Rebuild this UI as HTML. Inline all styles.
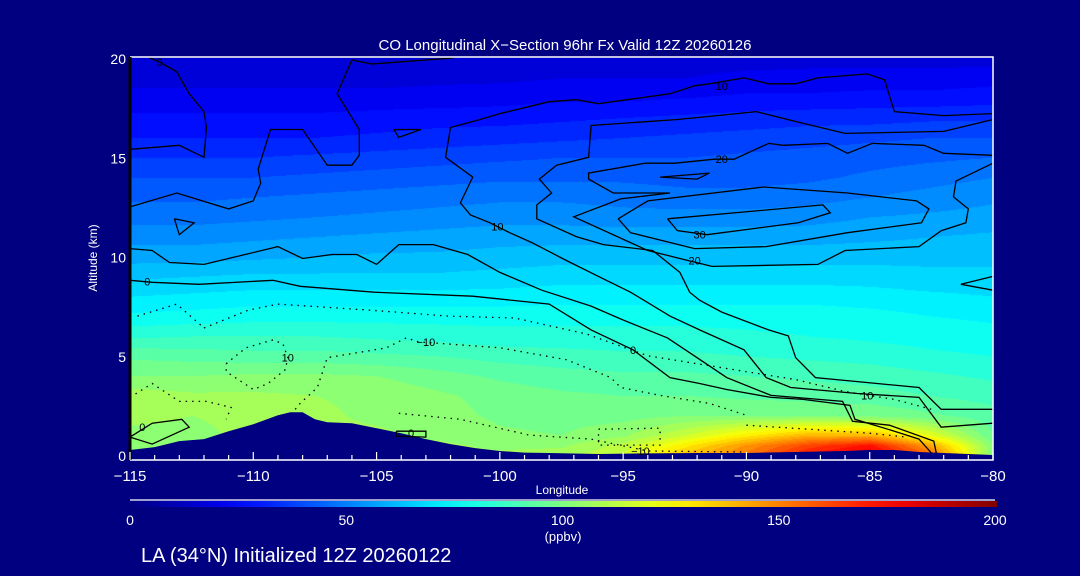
<!DOCTYPE html>
<html><head><meta charset="utf-8">
<style>
html,body{margin:0;padding:0;background:#000080;}
#wrap{position:relative;width:1080px;height:576px;background:#000080;overflow:hidden;font-family:"Liberation Sans",sans-serif;color:#fff;}
canvas{position:absolute;left:130px;top:58px;}
svg{position:absolute;left:0;top:0;}
</style></head>
<body>
<div id="wrap">
<canvas id="field" width="863" height="397"></canvas>
<svg id="ov" width="1080" height="576"></svg>
</div>
<script>
// ---- data ----
const lonCols = [-115,-112.5,-110,-107.5,-105,-102.5,-100,-97.5,-95,-92.5,-90,-87.5,-85,-82.5,-80];
const altRows = [0,0.5,1,2,3,4,5,6,7,8,9,10,11,12,13,14,15,16,17,18,19,20];
const coValues = [
[104,104,106,106,106,106,106,108,115,138,152,172,182,155,100],
[104,104,106,106,106,106,104,104,112,128,146,162,172,142,100],
[104,104,106,106,106,104,101,100,104,115,128,140,140,120,95],
[106,105,106,106,104,102,99,98,98,100,100,100,99,96,92],
[108,106,106,105,104,101,98,96,95,95,94,93,92,90,88],
[100,100,101,101,100,97,94,92,91,91,90,89,88,86,84],
[94,93,92,92,91,90,88,87,86,86,85,84,83,81,80],
[84,85,85,85,84,83,82,82,82,82,81,80,79,78,77],
[76,77,78,78,78,78,78,78,78,78,78,78,77,75,74],
[70,71,72,72,72,72,72,73,73,73,73,73,72,71,70],
[64,65,66,66,66,66,67,68,68,68,68,68,68,67,67],
[58,58,59,60,61,61,62,63,63,63,63,63,63,63,63],
[53,53,54,55,56,57,58,58,58,58,58,58,59,60,61],
[48,48,49,50,51,52,53,53,52,52,52,53,55,56,57],
[44,44,45,46,47,48,49,49,48,47,47,48,50,52,54],
[40,40,40,41,42,43,44,44,44,43,43,44,46,48,50],
[35,35,35,36,37,38,39,40,40,40,41,42,43,44,45],
[30,30,30,30,31,32,33,34,35,36,37,38,39,40,40],
[26,26,26,26,27,28,28,29,30,31,32,33,33,34,34],
[22,22,22,22,22,22,23,24,24,25,26,26,27,27,28],
[18,18,18,18,18,19,19,20,20,20,22,22,22,22,23],
[15,15,16,16,16,16,16,16,16,17,17,18,18,18,18]];
const terrainLon = [-115,-114,-113,-112,-111,-110,-109,-108.5,-108,-107.5,-107,-106,-105,-104,-103,-102,-101,-100,-99,-98,-96,-94,-92,-90,-88,-86,-85,-84,-83,-82,-81,-80];
const terrainAlt = [0.25,0.4,0.7,0.8,1.2,1.55,2.0,2.15,2.15,1.8,1.65,1.6,1.35,1.1,0.8,0.55,0.35,0.2,0.12,0.1,0.05,0.08,0.1,0.1,0.15,0.2,0.25,0.25,0.15,0.1,0.05,0];
const xTicks = [-115,-110,-105,-100,-95,-90,-85,-80];
const yTicks = [0,5,10,15,20];
const cbTicks = [0,50,100,150,200];
// contour lines: [lon, alt] pairs
const solidLines = [
 [[-115,10.4],[-114.1,10.3],[-113.4,9.7],[-112,9.6],[-109,10.5],[-108,9.9],[-106.8,10.1],[-105.8,10.1],[-105,9.6],[-104.1,10.6],[-102.7,10.6],[-101.3,10.1],[-100,9.2],[-98.3,8.3],[-96.3,7.5],[-95,6.8],[-93.2,5.9],[-92,4.9],[-90.8,3.9],[-89,3.0],[-86.1,2.7],[-85.7,1.7],[-84.2,1.5],[-82.4,0.7],[-82.3,0.1]],
 [[-115,8.8],[-114.1,8.7],[-112.2,8.6],[-109.2,8.8],[-108.1,8.5],[-105.1,8.2],[-101.1,8.0],[-98,7.6],[-96.3,6.3],[-94.6,5.3],[-93.1,3.9],[-91.9,3.6],[-90.8,3.3],[-89,2.9],[-87.7,2.8],[-85.8,2.5],[-85.6,1.8],[-84,1.2],[-83,0.8],[-82.5,0.1]],
 [[-102,16.5],[-102.2,15],[-101.1,14],[-101.6,12.7],[-101.2,12.1],[-100.4,11.7],[-99.6,11.2],[-98.7,10.7],[-97.3,9.8],[-96,9.0],[-94.7,8.2],[-93.1,7.0],[-91.9,6.3],[-90.1,5.3],[-89.2,3.9],[-88.2,3.4],[-85.5,3.1],[-83,2.9],[-82.1,1.4],[-80,1.6]],
 [[-102,16.5],[-100.8,16.9],[-100,17.2],[-98,17.8],[-96.9,17.9],[-96,17.7],[-93.1,18.2],[-92.1,18.6],[-91.5,18.7],[-90.1,19.0],[-89.1,18.7],[-88,18.7],[-87.1,19.0],[-85.1,19.2],[-84.4,18.9],[-84,17.3],[-82,17.1],[-80,17.2]],
 [[-80,16.9],[-82,16.3],[-86,16.2],[-88,16.8],[-89.6,17.3],[-91.2,17.1],[-92.8,16.9],[-96.3,16.6],[-96.4,15.0],[-97.7,14.6],[-98.4,13.9],[-97.9,13.2],[-98.5,12.6],[-98.5,11.9],[-96.9,11.0],[-95.8,10.6],[-93.8,10.3],[-92.7,9.2],[-92.3,8.2],[-91.9,7.8],[-91,7.2],[-89.1,6.3],[-88.3,6.0],[-88,4.9],[-87.2,3.9],[-83,3.4],[-82.1,2.3],[-80,2.3]],
 [[-80,15.1],[-82,15.2],[-82.8,15.6],[-84.9,15.7],[-85.9,15.2],[-86.7,15.7],[-88.5,15.6],[-89.1,15.7],[-90.5,14.9],[-91.3,14.9],[-92.9,14.7],[-94.1,14.7],[-96.4,14.2],[-96.4,13.9],[-95.4,13.2],[-93.1,13.2],[-95.1,12.9],[-97,12.0],[-94,10.3],[-92.7,9.9],[-91.4,9.5],[-87.1,9.6],[-86,10.3],[-83,10.5],[-82.1,11.3],[-81.1,11.7],[-81,12.4],[-81.6,13],[-81.5,13.8],[-80,14.7]],
 [[-95.2,11.9],[-94.7,11.2],[-92.1,10.4],[-89.2,10.5],[-85.9,11.2],[-82.9,11.7],[-82.6,12.4],[-83.1,12.8],[-85.9,13.2],[-89.3,13.5],[-94,12.8],[-95.2,11.9]],
 [[-93.2,11.9],[-86.9,12.6],[-86.6,12.2],[-87.9,11.7],[-91.6,11.1],[-92.8,11.3],[-93.2,11.9]],
 [[-93.5,14],[-91.5,14.2],[-92,13.9],[-93.5,14]],
 [[-80,9.0],[-81.3,8.6],[-80,8.3]],
 [[-114.2,20],[-113.8,19.8],[-113.1,19.3],[-112.6,18.2],[-112,17.3],[-111.9,16.5],[-112,15],[-113,15.6],[-115,15.4]],
 [[-115,12.5],[-113.1,13.2],[-111,12.4],[-110,12.8],[-109.7,13.7],[-109.8,14.4],[-109.3,16.4],[-108,16.4],[-107,14.6],[-106,14.6],[-105.7,15.1],[-105.7,16.4],[-106.6,18.2],[-106,19.9],[-105.2,19.7],[-101.9,20]],
 [[-104.3,16.4],[-104.1,16.0],[-103.2,16.4],[-104.3,16.4]],
 [[-113.2,11.9],[-112.4,11.7],[-113,11.1],[-113.2,11.9]],
 [[-115,0.9],[-114.1,1.6],[-112.9,1.8],[-112.6,1.4],[-114.1,0.55],[-115,0.9]],
 [[-104.2,1.2],[-103,1.2],[-103,0.9],[-104.2,0.95],[-104.2,1.2]]
];
const dottedLines = [
 [[-114.7,7],[-113.1,7.6],[-112,6.4]],
 [[-112,6.4],[-110.2,7.3],[-109,7.6],[-105.3,7.3],[-102.1,7.0],[-99.4,6.9],[-96.5,6.1],[-94,5.0],[-91,4.4],[-88,3.8],[-86,3.2],[-84,2.8],[-82.5,2.3]],
 [[-111.1,4.6],[-110.3,5.4],[-109.2,5.8],[-108.8,5.6],[-108.6,4.9],[-108.7,4.3],[-109.4,3.6],[-110,3.3],[-111.1,4.2],[-111.1,4.6]],
 [[-108.3,2.3],[-108.1,2.6],[-107.4,3.4],[-107,4.9],[-104.6,5.4],[-103.8,5.9],[-103.3,5.7],[-102.2,5.6],[-100,5.4],[-97.3,4.8],[-95.5,3.9],[-95.1,3.4],[-93.5,3.0],[-91.5,2.6],[-90,2.0]],
 [[-104.1,2.1],[-101.6,1.8],[-98.8,1.0],[-96.3,0.8],[-94,0.2],[-90,0.15]],
 [[-96,1.3],[-93.5,1.35],[-93.5,0.5],[-96,0.5],[-96,1.3]],
 [[-115,2.9],[-114.1,3.6],[-113,2.7],[-111.9,2.7],[-110.9,2.4],[-111.1,1.8]],
 [[-90,1.5],[-87.5,1.3],[-85,1.1],[-83.5,0.9]]
];
const lineLabels = [["0",-114.3,8.75],["10",-100.1,11.5],["20",-91,14.9],["10",-91,18.6],["30",-91.9,11.1],["20",-92.1,9.8],["0",-94.6,5.3],["10",-85.1,3.0],["−10",-103,5.7],["10",-108.6,4.9],["−10",-94.3,0.2],["0",-114.5,1.4],["0",-103.6,1.1],["0",-113.8,19.8]];

// ---- scales ----
const X0=130,X1=993,Y0=455,Y1=58;
const X=lon=>X0+(lon+115)/35*(X1-X0);
const Y=a=>Y0-a/20*(Y0-Y1);
function jet(t){t=Math.max(0,Math.min(1,t));
 const f=(x)=>Math.max(0,Math.min(1,x));
 const r=f(Math.min(4*t-1.5,-4*t+4.5)),g=f(Math.min(4*t-0.5,-4*t+3.5)),b=f(Math.min(4*t+0.5,-4*t+2.5));
 return [Math.round(r*255),Math.round(g*255),Math.round(b*255)];}
function idx(arr,v){for(let i=0;i<arr.length-1;i++){if(v<=arr[i+1])return i;}return arr.length-2;}
function sample(lon,alt){
 const i=idx(lonCols,lon),j=idx(altRows,alt);
 const tx=(lon-lonCols[i])/(lonCols[i+1]-lonCols[i]),ty=(alt-altRows[j])/(altRows[j+1]-altRows[j]);
 const a=coValues[j][i],b=coValues[j][i+1],c=coValues[j+1][i],d=coValues[j+1][i+1];
 return (a*(1-tx)+b*tx)*(1-ty)+(c*(1-tx)+d*tx)*ty;}
// ---- field ----
const cv=document.getElementById('field'),ctx=cv.getContext('2d');
const W=cv.width,H=cv.height,img=ctx.createImageData(W,H);
for(let py=0;py<H;py++){const alt=(Y0-(Y1+py))/(Y0-Y1)*20;
 for(let px=0;px<W;px++){const lon=-115+px/(X1-X0)*35;
  let v=sample(lon,Math.max(0,Math.min(20,alt)));v=Math.floor(v/5)*5+2.5;
  const c=jet(v/200),k=(py*W+px)*4;img.data[k]=c[0];img.data[k+1]=c[1];img.data[k+2]=c[2];img.data[k+3]=255;}}
ctx.putImageData(img,0,0);
// ---- svg ----
const NS='http://www.w3.org/2000/svg',svg=document.getElementById('ov');
function mk(tag,attrs,parent){const e=document.createElementNS(NS,tag);for(const k in attrs)e.setAttribute(k,attrs[k]);(parent||svg).appendChild(e);return e;}
// terrain
let tp='M'+X(-115)+','+(Y0+6);
terrainLon.forEach((l,i)=>{tp+=' L'+X(l).toFixed(1)+','+Y(terrainAlt[i]).toFixed(1);});
tp+=' L'+X(-80)+','+(Y0+6)+' Z';
const terr=mk('path',{d:tp,fill:'#000080'});


mk('rect',{x:125,y:Y0,width:875,height:6,fill:'#000080'});
// contours
solidLines.forEach((ln,i)=>{const p=mk('polyline',{points:ln.map(q=>X(q[0]).toFixed(1)+','+Y(q[1]).toFixed(1)).join(' '),fill:'none',stroke:'#000','stroke-width':1.3});
 
 });
dottedLines.forEach((ln,i)=>{const p=mk('polyline',{points:ln.map(q=>X(q[0]).toFixed(1)+','+Y(q[1]).toFixed(1)).join(' '),fill:'none',stroke:'#000','stroke-width':1.3,'stroke-dasharray':'1.5 5'});
 
 });
lineLabels.forEach(lb=>{const t=mk('text',{x:X(lb[1]),y:Y(lb[2])+4,'font-size':11,fill:'#000','text-anchor':'middle','font-family':'Liberation Sans, sans-serif'});t.textContent=lb[0];
 
 });
// axes frame
const fr=mk('path',{d:`M${X0},${Y1-1} L${X1},${Y1-1} L${X1},460 L${X0},460`,fill:'none',stroke:'#fff','stroke-width':1.5});


const ya=mk('line',{x1:X0,y1:Y1-1,x2:X0,y2:460,stroke:'#000','stroke-width':3});


for(let l=-115;l<=-80;l++){const maj=(l%5===0);mk('line',{x1:X(l),x2:X(l),y1:460,y2:maj?452:455,stroke:'#fff','stroke-width':1.2});}
xTicks.forEach(l=>{const t=mk('text',{x:X(l),y:481,'font-size':15,fill:'#fff','text-anchor':'middle'});t.textContent=(l<0?'−':'')+Math.abs(l);
 
 });
yTicks.forEach(a=>{const t=mk('text',{x:126,y:Y(a)+6,'font-size':14,fill:'#fff','text-anchor':'end'});t.textContent=a;
 
 });
// colorbar
const defs=mk('defs',{});const lg=mk('linearGradient',{id:'jetg',x1:0,x2:1,y1:0,y2:0},defs);
for(let s=0;s<=20;s++){const c=jet(s/20);mk('stop',{offset:(s/20),'stop-color':`rgb(${c[0]},${c[1]},${c[2]})`},lg);}
const cb=mk('rect',{x:130,y:501,width:867,height:6,fill:'url(#jetg)'});


mk('line',{x1:130,x2:995,y1:500,y2:500,stroke:'#fff','stroke-width':1.2});
cbTicks.forEach(v=>{const t=mk('text',{x:130+v/200*865,y:525,'font-size':14,fill:'#fff','text-anchor':'middle'});t.textContent=v;
 
 });
</script>
<svg width="1080" height="576" style="position:absolute;left:0;top:0;pointer-events:none">
<text x="565" y="50" font-size="15" fill="#fff" text-anchor="middle" font-family="Liberation Sans, sans-serif">CO Longitudinal X−Section 96hr  Fx Valid 12Z 20260126</text>
<text x="562" y="494" font-size="12" fill="#fff" text-anchor="middle" font-family="Liberation Sans, sans-serif">Longitude</text>
<text transform="translate(97,258) rotate(-90)" font-size="12" fill="#fff" text-anchor="middle" font-family="Liberation Sans, sans-serif">Altitude (km)</text>
<text x="563" y="541" font-size="13" fill="#fff" text-anchor="middle" font-family="Liberation Sans, sans-serif">(ppbv)</text>
<text x="141" y="562" font-size="20" fill="#fff" font-family="Liberation Sans, sans-serif">LA (34°N) Initialized 12Z 20260122</text>
</svg>
</body></html>
